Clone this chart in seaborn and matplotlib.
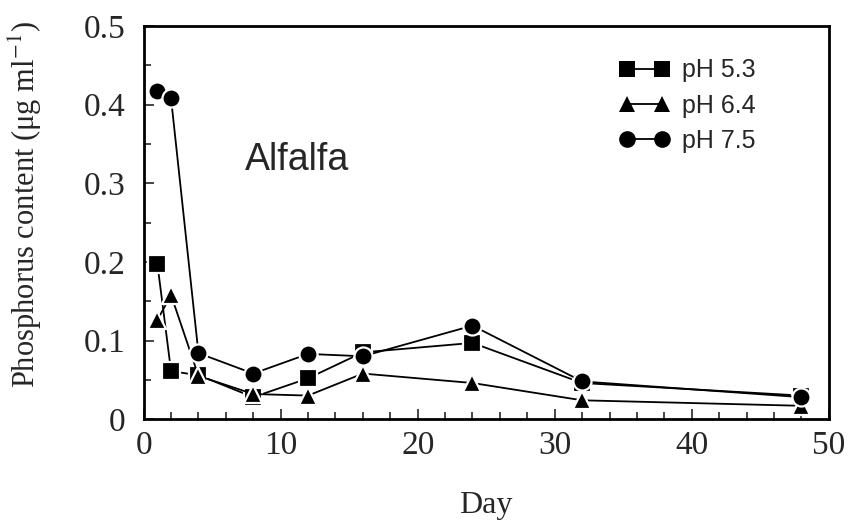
import pandas as pd
import matplotlib
matplotlib.use('Agg')
import matplotlib.pyplot as plt
import seaborn as sns
from matplotlib.ticker import MultipleLocator

days = [1, 2, 4, 8, 12, 16, 24, 32, 48]
ph53 = [0.198, 0.061, 0.056, 0.028, 0.052, 0.085, 0.097, 0.046, 0.030]
ph64 = [0.126, 0.158, 0.055, 0.032, 0.030, 0.058, 0.046, 0.024, 0.017]
ph75 = [0.418, 0.408, 0.084, 0.058, 0.083, 0.080, 0.119, 0.048, 0.028]
labels = ['pH 5.3', 'pH 6.4', 'pH 7.5']
series = [ph53, ph64, ph75]
markers = ['s', '^', 'o']
yticks = [0, 0.1, 0.2, 0.3, 0.4, 0.5]
ytick_labels = ['0', '0.1', '0.2', '0.3', '0.4', '0.5']

sns.set_style('ticks')
plt.rcParams['font.family'] = ['Liberation Serif', 'DejaVu Serif']
plt.rcParams['mathtext.fontset'] = 'stix'

fig, ax = plt.subplots(figsize=(8.5, 5.22), dpi=100)
fig.subplots_adjust(left=0.169, right=0.975, top=0.95, bottom=0.197)

for lab, vals, m in zip(labels, series, markers):
    sns.lineplot(x=days, y=vals, ax=ax, color='black', marker=m, markersize=13,
                 markeredgecolor='white', markeredgewidth=1.6, linewidth=1.3,
                 label=lab)

ax.set_xlim(0, 50)
ax.set_ylim(0, 0.5)
ax.xaxis.set_major_locator(MultipleLocator(10))
ax.xaxis.set_minor_locator(MultipleLocator(2))
ax.set_yticks(yticks)
ax.set_yticklabels(ytick_labels)
ax.yaxis.set_minor_locator(MultipleLocator(0.05))
ax.tick_params(which='both', direction='in', width=1.2, labelsize=24)
ax.tick_params(axis='x', pad=8)
ax.tick_params(axis='y', pad=13)
ax.tick_params(which='major', length=7)
ax.tick_params(which='minor', length=5)
for s in ax.spines.values():
    s.set_linewidth(2)
    s.set_color('black')

ax.set_xlabel('Day', fontsize=23, labelpad=22)
ax.set_ylabel('Phosphorus content (μg ml$^{-1}$)', fontsize=22)
ax.yaxis.set_label_coords(-0.145, 0.547)

ax.text(11.2, 0.33, 'Alfalfa', fontsize=27, family='Liberation Sans',
        ha='center', va='center')

leg = ax.legend(loc='upper right', bbox_to_anchor=(0.926, 0.975), numpoints=2,
                frameon=False, handlelength=2.0, handletextpad=0.5,
                labelspacing=0.45, prop={'family': 'Liberation Sans', 'size': 18})
for h in leg.legend_handles:
    h.set_markersize(12)
    h.set_markeredgecolor('black')
    h.set_markeredgewidth(0)

fig.savefig('out.png', dpi=100)
